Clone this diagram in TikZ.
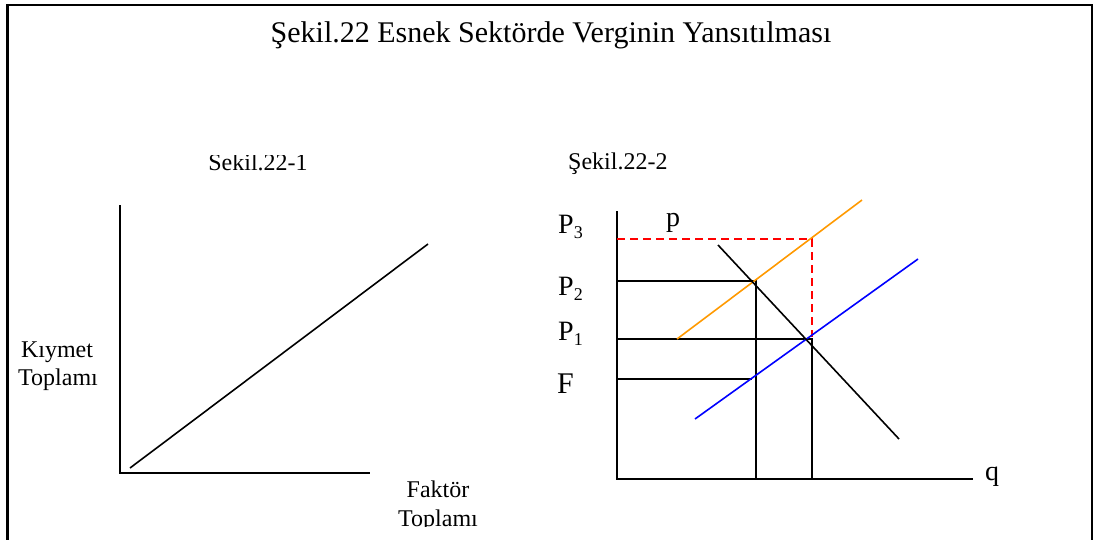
\documentclass[tikz,border=0pt]{standalone}
\usepackage{fontspec}
\setmainfont{Liberation Serif}
\newcommand{\subnum}[1]{\raisebox{-5pt}{\fontsize{18}{20}\selectfont #1}}
\begin{document}
\begin{tikzpicture}[x=1pt,y=-1pt,
  lbl/.style={inner sep=0pt,anchor=base,font=\fontsize{24}{28}\selectfont},
  plbl/.style={inner sep=0pt,anchor=base west,font=\fontsize{28}{30}\selectfont},
  axis/.style={line width=1.9pt,black},
  plot/.style={line width=1.6pt},
  frame/.style={line width=2.2pt,black}]
\useasboundingbox (0,0) rectangle (1099,540);
% frame
\coordinate (fl) at (7.5,540); \coordinate (ftl) at (7.5,5);
\coordinate (ftr) at (1092,5); \coordinate (fr) at (1092,540);
\draw[frame] (fl) -- (ftl) -- (ftr) -- (fr);
% title
\node[inner sep=0pt,anchor=base,font=\fontsize{30}{34}\selectfont] (title) at (551,43) {Şekil.22 Esnek Sektörde Verginin Yansıtılması};
% left panel
\begin{scope}
\clip (0,155.5) rectangle (540,200);
\node[lbl] (s1) at (258,171) {Sekil.22-1};
\end{scope}
\node[lbl] (k1) at (57,357) {Kıymet};
\node[lbl] (k2) at (58,385) {Toplamı};
\node[lbl] (f1) at (438,497) {Faktör};
\begin{scope}
\clip (300,500) rectangle (540,526);
\node[lbl] (f2) at (438,526) {Toplamı};
\end{scope}
\coordinate (ly) at (120,205); \coordinate (lo) at (120,473); \coordinate (lx) at (370,473);
\draw[axis] (ly) -- (lo) -- (lx);
\coordinate (la) at (130,468); \coordinate (lb) at (428,244);
\draw[plot] (la) -- (lb);
% right panel
\node[lbl,anchor=base west] (s2) at (568,170) {Şekil.22-2};
\node[plbl] (p3) at (558,233) {P\subnum{3}};
\node[plbl] (p2) at (558,295) {P\subnum{2}};
\node[plbl] (p1) at (558,340) {P\subnum{1}};
\node[plbl,font=\fontsize{30}{32}\selectfont] (fF) at (557,393) {F};
\node[plbl,anchor=base] (pp) at (673,226) {p};
\node[plbl,anchor=base] (qq) at (992,480) {q};
\coordinate (ry) at (617,211); \coordinate (ro) at (617,479); \coordinate (rx) at (973,479);
\draw[axis] (ry) -- (ro) -- (rx);
% guide lines
\coordinate (y3) at (617,239); \coordinate (e3) at (812,239); \coordinate (e3b) at (812,337);
\draw[red,line width=1.6pt,dash pattern=on 8pt off 5pt] (y3) -- (e3) -- (e3b);
\coordinate (y2) at (617,281); \coordinate (e2) at (756,281); \coordinate (x2) at (756,479);
\draw[plot] (y2) -- (e2) -- (x2);
\coordinate (y1) at (617,339); \coordinate (e1) at (812,339); \coordinate (x1) at (812,479);
\draw[plot] (y1) -- (e1) -- (x1);
\coordinate (yF) at (617,379); \coordinate (eF) at (752,379);
\draw[plot] (yF) -- (eF);
% curves
\coordinate (oa) at (677,339); \coordinate (ob) at (862,200);
\draw[plot,color={rgb,255:red,255;green,153;blue,0}] (oa) -- (ob);
\coordinate (ba) at (695,419); \coordinate (bb) at (918,259);
\draw[plot,blue] (ba) -- (bb);
\coordinate (da) at (718,245); \coordinate (db) at (899,439);
\draw[plot] (da) -- (db);
\end{tikzpicture}
\end{document}
